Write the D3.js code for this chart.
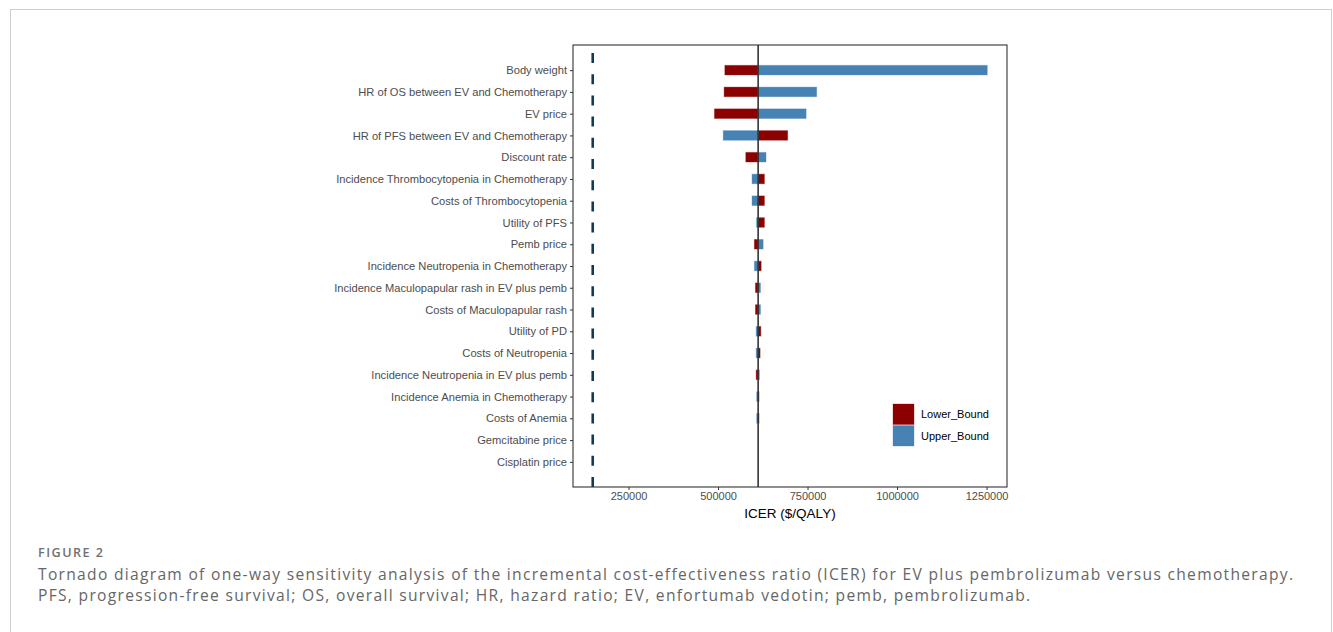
<!DOCTYPE html>
<html>
<head>
<meta charset="utf-8">
<script src="https://cdn.jsdelivr.net/npm/d3@7/dist/d3.min.js"></script>
<style>
html,body{margin:0;padding:0;background:#fff;}
svg{display:block;}
</style>
</head>
<body>
<svg id="chart" width="1333" height="632"></svg>
<script>
const parameters = [
  "Body weight",
  "HR of OS between EV and Chemotherapy",
  "EV price",
  "HR of PFS between EV and Chemotherapy",
  "Discount rate",
  "Incidence Thrombocytopenia in Chemotherapy",
  "Costs of Thrombocytopenia",
  "Utility of PFS",
  "Pemb price",
  "Incidence Neutropenia in Chemotherapy",
  "Incidence Maculopapular rash in EV plus pemb",
  "Costs of Maculopapular rash",
  "Utility of PD",
  "Costs of Neutropenia",
  "Incidence Neutropenia in EV plus pemb",
  "Incidence Anemia in Chemotherapy",
  "Costs of Anemia",
  "Gemcitabine price",
  "Cisplatin price"
];
// ICER at lower bound of each parameter
const lowerBound = [519000, 517000, 490000, 694500, 577500, 629500, 629500, 629500, 601500, 620500,
                    604500, 604500, 619500, 617500, 606500, 614500, 614500, 612000, 612000];
// ICER at upper bound of each parameter
const upperBound = [1252000, 775500, 746000, 514500, 634000, 595000, 595000, 607500, 626000, 601500,
                    618500, 618500, 606500, 606500, 615500, 608000, 608000, 612000, 612000];
const baseICER = 612000;
const wtpThreshold = 150000;
const xTicks = [250000, 500000, 750000, 1000000, 1250000];
const legendLabels = ["Lower_Bound", "Upper_Bound"];
const colors = {"Lower_Bound": "#8B0000", "Upper_Bound": "#4682B4"};

const svg = d3.select("#chart");

// outer card
svg.append("rect").attr("x", 10.5).attr("y", 9.5).attr("width", 1321).attr("height", 640)
  .attr("fill", "#fff").attr("stroke", "#cfcfcf").attr("stroke-width", 1);

const panel = {left: 573, right: 1007, top: 45, bottom: 487};

const allVals = lowerBound.concat(upperBound, [baseICER, wtpThreshold]);
const [mn, mx] = d3.extent(allVals);
const pad = (mx - mn) * 0.05;
const x = d3.scaleLinear().domain([mn - pad, mx + pad]).range([panel.left, panel.right]);
const y = d3.scalePoint().domain(parameters).range([panel.top, panel.bottom]).padding(1.156);

const g = svg.append("g");
const barH = 9.6;

// bars
const rows = parameters.map((p, i) => ({p, lo: lowerBound[i], up: upperBound[i]}));
const drawBars = (key, field) => {
  g.append("g").selectAll("rect").data(rows.filter(d => d[field] !== baseICER)).join("rect")
    .attr("x", d => x(Math.min(d[field], baseICER)))
    .attr("width", d => Math.abs(x(d[field]) - x(baseICER)))
    .attr("y", d => y(d.p) - barH / 2)
    .attr("height", barH)
    .attr("fill", colors[key])
    .attr("stroke", colors[key]).attr("stroke-opacity", 0.35).attr("stroke-width", 1);
};
drawBars("Lower_Bound", "lo");
drawBars("Upper_Bound", "up");

// base ICER line
g.append("line").attr("x1", x(baseICER)).attr("x2", x(baseICER))
  .attr("y1", panel.top).attr("y2", panel.bottom)
  .attr("stroke", "#333").attr("stroke-width", 1.6);

// WTP dashed line (drawn from bottom up)
g.append("line").attr("x1", x(wtpThreshold)).attr("x2", x(wtpThreshold))
  .attr("y1", panel.bottom).attr("y2", panel.top)
  .attr("stroke", "#123a55").attr("stroke-width", 2.6)
  .attr("stroke-dasharray", "10,11.2");

// panel border
svg.append("rect").attr("x", panel.left).attr("y", panel.top)
  .attr("width", panel.right - panel.left).attr("height", panel.bottom - panel.top)
  .attr("fill", "none").attr("stroke", "#333").attr("stroke-width", 1.1);

// axes
const xAxis = d3.axisBottom(x).tickValues(xTicks).tickFormat(d3.format("d")).tickSize(3).tickPadding(2);
const gx = svg.append("g").attr("transform", `translate(0,${panel.bottom})`).call(xAxis);
gx.select(".domain").remove();
gx.selectAll(".tick line").attr("stroke", "#333");
gx.selectAll(".tick text").attr("fill", "#4d4d4d").attr("font-size", "11px")
  .attr("font-family", "'Liberation Sans', Arial, sans-serif");

const yAxis = d3.axisLeft(y).tickSize(3).tickPadding(3);
const gy = svg.append("g").attr("transform", `translate(${panel.left},0)`).call(yAxis);
gy.select(".domain").remove();
gy.selectAll(".tick line").attr("stroke", "#333");
gy.selectAll(".tick text").attr("fill", "#4d4d4d").attr("font-size", "11.15px")
  .attr("font-family", "'Liberation Sans', Arial, sans-serif");

// axis title
svg.append("text").attr("x", (panel.left + panel.right) / 2).attr("y", 518)
  .attr("text-anchor", "middle").attr("font-size", "13.5px")
  .attr("font-family", "'Liberation Sans', Arial, sans-serif").attr("fill", "#000")
  .text("ICER ($/QALY)");

// legend
const lg = svg.append("g").attr("transform", "translate(893,404)");
legendLabels.forEach((lab, i) => {
  lg.append("rect").attr("x", 0).attr("y", i * 21.5).attr("width", 21).attr("height", 20.5)
    .attr("fill", colors[lab]).attr("stroke", colors[lab]).attr("stroke-opacity", 0.3);
  lg.append("text").attr("x", 28).attr("y", i * 21.5 + 10.5).attr("dy", "0.35em")
    .attr("font-size", "11px").attr("font-family", "'Liberation Sans', Arial, sans-serif")
    .attr("fill", "#000").text(lab);
});

// caption
const fitSpacing = (sel, target) => {
  const txt = sel.text();
  const nat = sel.node().getComputedTextLength();
  sel.attr("letter-spacing", Math.max(0, (target - nat) / (txt.length - 1)) + "px");
  return Math.max(0, (target - nat) / (txt.length - 1));
};
const fig = svg.append("text").attr("x", 38).attr("y", 556.5).attr("font-size", "12.6px")
  .attr("font-family", "'Open Sans', sans-serif").attr("font-weight", 600)
  .attr("fill", "#707070").text("FIGURE 2");
fitSpacing(fig, 65);
const capLines = [
  "Tornado diagram of one-way sensitivity analysis of the incremental cost-effectiveness ratio (ICER) for EV plus pembrolizumab versus chemotherapy.",
  "PFS, progression-free survival; OS, overall survival; HR, hazard ratio; EV, enfortumab vedotin; pemb, pembrolizumab."
];
const t1 = svg.append("text").attr("x", 38).attr("y", 579.5).attr("font-size", "15.6px")
  .attr("font-family", "'Open Sans', sans-serif").attr("fill", "#666").text(capLines[0]);
const ls = fitSpacing(t1, 1255);
svg.append("text").attr("x", 38).attr("y", 601).attr("font-size", "15.6px")
  .attr("font-family", "'Open Sans', sans-serif").attr("fill", "#666")
  .attr("letter-spacing", ls + "px").text(capLines[1]);
</script>
</body>
</html>
